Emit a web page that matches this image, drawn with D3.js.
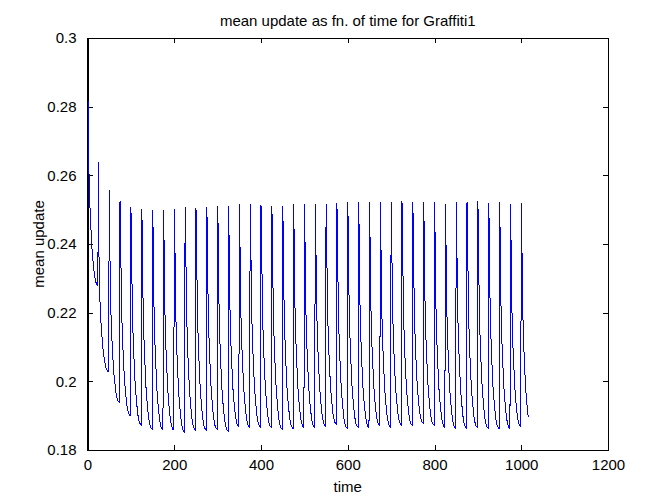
<!DOCTYPE html>
<html>
<head>
<meta charset="utf-8">
<script src="https://cdn.jsdelivr.net/npm/d3@7/dist/d3.min.js"></script>
<style>
  html, body { margin: 0; padding: 0; background: #fff; }
  svg { display: block; }
  text { font-family: "Liberation Sans", Arial, Helvetica, sans-serif; fill: #000; }
</style>
</head>
<body>
<svg id="chart" width="672" height="504"></svg>
<script>
// ---------------- data ----------------
const titleText = "mean update as fn. of time for Graffiti1";
const xLabelText = "time";
const yLabelText = "mean update";

const xTicks = [0, 200, 400, 600, 800, 1000, 1200];
const xTickLabels = ["0", "200", "400", "600", "800", "1000", "1200"];
const yTicks = [0.18, 0.2, 0.22, 0.24, 0.26, 0.28, 0.3];
const yTickLabels = ["0.18", "0.2", "0.22", "0.24", "0.26", "0.28", "0.3"];

// time of each spike
const spikeTimes = [0, 25, 50, 75, 100, 125, 150, 175, 200, 225, 250, 275, 300, 325,
  350, 375, 400, 425, 450, 475, 500, 525, 550, 575, 600, 625, 650, 675, 700, 725,
  750, 775, 800, 825, 850, 875, 900, 925, 950, 975, 1000];
// value at the top of each spike
const peakValues = [0.2990, 0.2639, 0.2557, 0.2525, 0.2509, 0.2502, 0.2499, 0.2499,
  0.2502, 0.2509, 0.2506, 0.2509, 0.2512, 0.2511, 0.2517, 0.2517, 0.2514, 0.2511,
  0.2511, 0.2517, 0.2517, 0.2517, 0.2517, 0.2519, 0.2521, 0.2521, 0.2521, 0.2521,
  0.2521, 0.2524, 0.2521, 0.2521, 0.2521, 0.2517, 0.2521, 0.2521, 0.2525, 0.2519,
  0.2521, 0.2517, 0.2519];
// value one step after each spike
const afterPeakValues = [0.2836, 0.2400, 0.2430, 0.2455, 0.2455, 0.2455, 0.2455,
  0.2455, 0.2455, 0.2455, 0.2455, 0.2455, 0.2455, 0.2455, 0.2455, 0.2455, 0.2455,
  0.2455, 0.2455, 0.2455, 0.2455, 0.2455, 0.2455, 0.2455, 0.2455, 0.2455, 0.2455,
  0.2455, 0.2455, 0.2455, 0.2455, 0.2455, 0.2455, 0.2455, 0.2455, 0.2455, 0.2455,
  0.2455, 0.2455, 0.2455, 0.2455];
// lowest value reached just before the next spike
const troughValues = [0.2280, 0.2028, 0.1938, 0.1900, 0.1873, 0.1861, 0.1858, 0.1858,
  0.1852, 0.1858, 0.1858, 0.1860, 0.1856, 0.1868, 0.1866, 0.1866, 0.1866, 0.1860,
  0.1863, 0.1866, 0.1866, 0.1870, 0.1875, 0.1863, 0.1866, 0.1866, 0.1870, 0.1866,
  0.1872, 0.1872, 0.1878, 0.1872, 0.1866, 0.1863, 0.1863, 0.1866, 0.1863, 0.1863,
  0.1863, 0.1868, 0.1866];
// shape of a typical decay, steps 1..24 after a spike (read from one steady cycle)
const decayShape = [0.2455, 0.2350, 0.2240, 0.2180, 0.2135, 0.2097, 0.2065, 0.2039,
  0.2010, 0.1984, 0.1965, 0.1951, 0.1935, 0.1922, 0.1910, 0.1897, 0.1890, 0.1882,
  0.1877, 0.1873, 0.1870, 0.1868, 0.1867, 0.1866];
const lastTime = 1016;

// ---------------- build series table ----------------
const series = [];
const shapeTop = decayShape[0], shapeBot = decayShape[decayShape.length - 1];
spikeTimes.forEach((t0, c) => {
  if (t0 > lastTime) return;
  series.push({ t: t0, v: peakValues[c] });
  decayShape.forEach((s, i) => {
    const t = t0 + i + 1;
    if (t > lastTime) return;
    const frac = (s - shapeBot) / (shapeTop - shapeBot);
    series.push({ t: t, v: troughValues[c] + (afterPeakValues[c] - troughValues[c]) * frac });
  });
});

// ---------------- layout ----------------
const svg = d3.select("#chart");
const W = 672, H = 504;
const plot = { left: 87.5, right: 608, top: 38, bottom: 450 };
const tickLen = 5;
const fontSize = 15;

svg.append("rect").attr("x", 0).attr("y", 0).attr("width", W).attr("height", H).attr("fill", "#fff");

const x = d3.scaleLinear().domain([0, 1200]).range([plot.left, plot.right]);
const y = d3.scaleLinear().domain([0.18, 0.3]).range([plot.bottom, plot.top]);

// axes (ticks inside on all four sides)
const fmtX = (d) => xTickLabels[xTicks.indexOf(d)];
const fmtY = (d) => yTickLabels[yTicks.indexOf(d)];

const gBottom = svg.append("g").attr("transform", `translate(0,${plot.bottom})`)
  .call(d3.axisBottom(x).tickValues(xTicks).tickFormat(fmtX).tickSizeInner(-tickLen).tickSizeOuter(0).tickPadding(9));
const gTop = svg.append("g").attr("transform", `translate(0,${plot.top})`)
  .call(d3.axisTop(x).tickValues(xTicks).tickFormat("").tickSizeInner(-tickLen).tickSizeOuter(0));
const gLeft = svg.append("g").attr("transform", `translate(${plot.left},0)`)
  .call(d3.axisLeft(y).tickValues(yTicks).tickFormat(fmtY).tickSizeInner(-tickLen).tickSizeOuter(0).tickPadding(11));
const gRight = svg.append("g").attr("transform", `translate(${plot.right},0)`)
  .call(d3.axisRight(y).tickValues(yTicks).tickFormat("").tickSizeInner(-tickLen).tickSizeOuter(0));

[gBottom, gTop, gLeft, gRight].forEach(g => {
  g.select(".domain").attr("stroke", "#000").attr("shape-rendering", "crispEdges");
  g.selectAll(".tick line").attr("stroke", "#000").attr("shape-rendering", "crispEdges");
  g.selectAll(".tick text").attr("font-size", fontSize)
    .attr("font-family", "'Liberation Sans', Arial, sans-serif").attr("fill", "#000");
});

// data line
const line = d3.line().x(d => x(d.t)).y(d => y(d.v));
svg.append("path").datum(series)
  .attr("d", line)
  .attr("fill", "none")
  .attr("stroke", "#0000ff")
  .attr("stroke-width", 1)
  .attr("shape-rendering", "crispEdges");

// box frame on top
svg.append("rect")
  .attr("x", plot.left).attr("y", plot.top)
  .attr("width", plot.right - plot.left).attr("height", plot.bottom - plot.top)
  .attr("fill", "none").attr("stroke", "#000").attr("stroke-width", 1)
  .attr("shape-rendering", "crispEdges");

// title and axis labels
svg.append("text").attr("x", (plot.left + plot.right) / 2).attr("y", 26)
  .attr("text-anchor", "middle").attr("font-size", fontSize).text(titleText);
svg.append("text").attr("x", (plot.left + plot.right) / 2).attr("y", 492)
  .attr("text-anchor", "middle").attr("font-size", fontSize).text(xLabelText);
svg.append("text")
  .attr("transform", `translate(44,${(plot.top + plot.bottom) / 2}) rotate(-90)`)
  .attr("text-anchor", "middle").attr("font-size", fontSize).text(yLabelText);
</script>
</body>
</html>
